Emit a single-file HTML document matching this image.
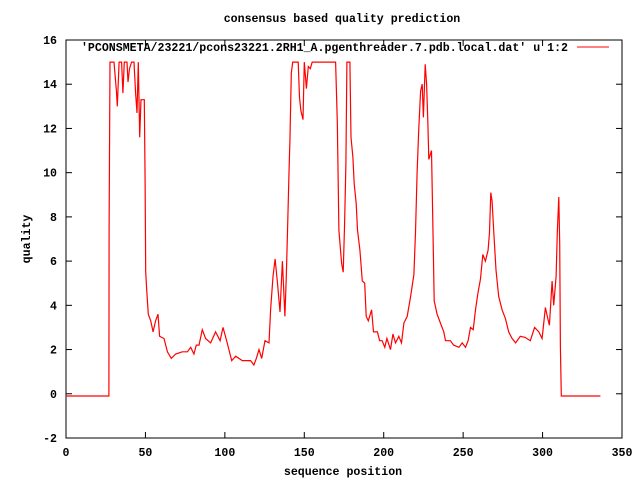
<!DOCTYPE html>
<html><head><meta charset="utf-8"><style>
body{margin:0;background:#fff;}
svg text{font-family:"Liberation Mono","DejaVu Sans Mono",monospace;font-size:11.6px;font-weight:bold;fill:#000;}
</style></head><body>
<svg id="chart" width="640" height="480" xmlns="http://www.w3.org/2000/svg">
<text x="342" y="22" text-anchor="middle">consensus based quality prediction</text>
<text x="343" y="475" text-anchor="middle">sequence position</text>
<text transform="translate(30,239) rotate(-90)" text-anchor="middle">quality</text>
<rect x="66" y="40" width="556" height="398" fill="none" stroke="#000" stroke-width="1"/>
<g id="ticks"></g>
<text x="568" y="51" text-anchor="end">'PCONSMETA/23221/pcons23221.2RH1_A.pgenthreader.7.pdb.local.dat' u 1:2</text>
<line x1="577" y1="47" x2="609" y2="47" stroke="#f00" stroke-width="1"/>
<path id="series" fill="none" stroke="#f00" stroke-width="1.2" stroke-linejoin="miter"/>
</svg>
<script>
const xTicks=[0,50,100,150,200,250,300,350];
const yTicks=[-2,0,2,4,6,8,10,12,14,16];
const posX=[0,27,27.1,27.7,30.2,31.7,32.3,33.4,35,35.8,36.7,38.4,39,40,41.3,42.8,43.8,44.7,45.5,46.4,47.2,49.3,49.8,50.2,50.8,51.8,53.3,54.8,56.4,57.9,58.9,61.7,63.8,66.3,69,73.2,76.4,78.5,80.5,82,83.7,85.8,87.9,91,94.2,97,98.8,101.5,104.3,106.8,111,114,116.2,118.3,119.8,121.5,123.2,125.3,127.8,128.8,130.3,131.6,133,134.7,136.2,137.8,138.7,139.5,140.4,141,141.8,142.7,146.2,147,147.9,149.2,150,151.3,152.5,153.8,155,169.7,170.8,171.8,173.5,174.5,175.4,176.2,176.8,178.7,179.4,180.6,181.4,182.7,183.5,185,186.5,188,189,190.3,192.4,193.6,196,197.4,199,200.7,202,204.3,205.8,207.4,209.5,211.2,212.7,214.8,216.9,219,220,221,222,223.2,224.2,225,226.1,227,227.8,228.4,230.1,230.9,231.8,233.6,235.7,237.8,238.9,242,244,247.3,249.4,251.5,253.1,254.6,256.3,257.8,259.4,260.9,262.4,264,265.7,266.6,267.4,268.2,269.3,270.7,272.4,274.5,276.6,278.7,280.8,283,286,289,292.3,295,297.6,299.7,301.8,303,304.3,306,307,308.5,309.3,310.2,310.8,311.2,311.8,336.4];
const quality=[-0.1,-0.1,7.5,15,15,13.7,13,15,15,13.6,15,15,14.1,14.7,15,15,13.6,12.7,15,11.6,13.3,13.3,9.6,5.5,4.7,3.6,3.3,2.8,3.3,3.6,2.6,2.5,1.9,1.6,1.8,1.9,1.9,2.1,1.8,2.2,2.2,2.9,2.5,2.3,2.8,2.4,3.0,2.3,1.5,1.7,1.5,1.5,1.5,1.3,1.6,2.0,1.6,2.4,2.3,3.8,5.3,6.1,5.1,3.7,6.0,3.5,5.3,7.5,10,11.6,14.5,15,15,13.4,12.8,12.4,15,13.8,14.8,14.7,15,15,12.3,7.4,5.9,5.5,7.7,10.4,15,15,11.6,10.7,9.5,8.6,7.4,6.5,5.1,5.0,3.5,3.3,3.8,2.8,2.8,2.4,2.4,2.1,2.5,2.0,2.7,2.3,2.6,2.3,3.2,3.5,4.4,5.4,7.3,10,11.9,13.7,14.0,12.5,14.9,14.0,12.2,10.6,11.0,7.8,4.2,3.6,3.2,2.8,2.4,2.4,2.2,2.1,2.3,2.1,2.4,3.0,2.9,3.8,4.6,5.2,6.3,6.0,6.5,7.3,9.1,8.7,7.3,5.6,4.4,3.8,3.4,2.8,2.5,2.3,2.6,2.55,2.4,3.0,2.8,2.5,3.9,3.5,3.1,5.1,4.0,5.3,7.3,8.9,6.8,2.1,-0.1,-0.1];
const L=66,R=622,T=40,B=438;
function sx(v){return L+(v-0)/(350-0)*(R-L);}
function sy(v){return B-(v+2)/(16+2)*(B-T);}
const NS="http://www.w3.org/2000/svg";
const g=document.getElementById('ticks');
function add(tag,attrs,txt){const e=document.createElementNS(NS,tag);for(const k in attrs)e.setAttribute(k,attrs[k]);if(txt!==undefined)e.textContent=txt;g.appendChild(e);return e;}
xTicks.forEach(v=>{
  const x=sx(v);
  const t1=add('line',{x1:x,y1:B,x2:x,y2:B-6,stroke:'#000'});
  
  
  const t2=add('line',{x1:x,y1:T,x2:x,y2:T+6,stroke:'#000'});
  
  
  const lb=add('text',{x:x,y:B+18,'text-anchor':'middle'},String(v));
  
  
});
yTicks.forEach(v=>{
  const y=sy(v);
  const t1=add('line',{x1:L,y1:y,x2:L+6,y2:y,stroke:'#000'});
  
  
  const t2=add('line',{x1:R,y1:y,x2:R-6,y2:y,stroke:'#000'});
  
  
  const lb=add('text',{x:L-9,y:y+4,'text-anchor':'end'},String(v));
  
  
});
let d='';
posX.forEach((x,i)=>{d+=(i?'L':'M')+sx(x).toFixed(1)+' '+sy(quality[i]).toFixed(1)+' ';});
document.getElementById('series').setAttribute('d',d);
</script>
</body></html>
